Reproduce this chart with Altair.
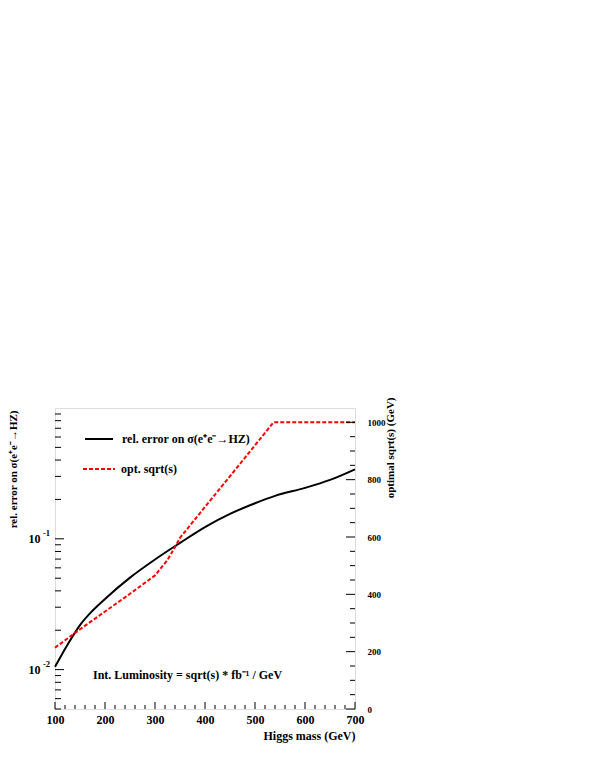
import altair as alt
import pandas as pd

# Black curve: relative error on sigma(e+e- -> HZ)
mh_err = [100, 125, 150, 175, 200, 250, 300, 350, 400, 450, 500, 540, 600, 650, 700]
rel_err = [0.0105, 0.0155, 0.0219, 0.0282, 0.0347, 0.0505, 0.0695, 0.093, 0.123, 0.155, 0.187, 0.213,
           0.245, 0.282, 0.34]

# Red dashed curve: optimal sqrt(s)
mh_opt = [100, 150, 200, 250, 300, 325, 340, 350, 400, 450, 500, 537, 700]
sqrt_s = [214, 278, 340, 402, 466, 520, 565, 597, 705, 812, 920, 1000, 1000]

x_major = [100, 200, 300, 400, 500, 600, 700]
x_minor = [v for v in range(100, 701, 20) if v % 100 != 0]
left_major = [0.01, 0.1]
left_minor = [0.005, 0.006, 0.007, 0.008, 0.009, 0.02, 0.03, 0.04, 0.05, 0.06, 0.07, 0.08, 0.09,
              0.2, 0.3, 0.4, 0.5, 0.6, 0.7, 0.8, 0.9]
right_major = [0, 200, 400, 600, 800, 1000]
right_minor = [v for v in range(50, 1050, 50) if v % 200 != 0]
exp_vals = [0.1, 0.01]
exp_text = ["-1", "-2"]

FONT = "Liberation Serif"
W, H = 300, 301

df_err = pd.DataFrame({"mh": mh_err, "err": rel_err})
df_opt = pd.DataFrame({"mh": mh_opt, "s": sqrt_s})
one = pd.DataFrame({"a": [0]})

xscale = alt.Scale(domain=[100, 700], nice=False, zero=False)
lscale = alt.Scale(type="log", domain=[0.005, 1], nice=False)
rscale = alt.Scale(domain=[0, 1050], nice=False, zero=False)

xaxis = alt.Axis(values=x_major, ticks=False, domain=False, grid=False, labelFont=FONT, labelFontSize=12,
                 labelFontWeight="bold", labelColor="black", labelPadding=5, labelFlush=False, format="d",
                 title="Higgs mass (GeV)", titleFont=FONT, titleFontSize=12, titleFontWeight="bold",
                 titleColor="black", titleX=W, titleY=26, titleAlign="right", titleBaseline="middle")

black = alt.Chart(df_err).mark_line(color="black", strokeWidth=2, interpolate="monotone").encode(
    x=alt.X("mh:Q", scale=xscale, axis=xaxis),
    y=alt.Y("err:Q", scale=lscale,
            axis=alt.Axis(values=left_major, labelExpr="'10'", ticks=False, domain=False, grid=False,
                          labelFont=FONT, labelFontSize=12, labelFontWeight="bold", labelColor="black",
                          labelPadding=15, labelFlush=False,
                          title="rel. error on σ(e⁺e⁻→HZ)", titleFont=FONT, titleFontSize=11,
                          titleFontWeight="bold", titleColor="black", titleAngle=270, titleAlign="right",
                          titleX=-42, titleY=2, titleBaseline="middle")),
)

red = alt.Chart(df_opt).mark_line(color="#ff0000", strokeWidth=2, strokeDash=[4, 2]).encode(
    x=alt.X("mh:Q", scale=xscale, axis=xaxis),
    y=alt.Y("s:Q", scale=rscale,
            axis=alt.Axis(orient="right", values=right_major, ticks=False, domain=False, grid=False,
                          labelFont=FONT, labelFontSize=9, labelFontWeight="bold", labelColor="black",
                          labelPadding=12, labelFlush=False, format="d",
                          title="optimal sqrt(s) (GeV)", titleFont=FONT, titleFontSize=11,
                          titleFontWeight="bold", titleColor="black", titleAngle=270, titleAlign="right",
                          titleX=35, titleY=-11, titleBaseline="middle")),
)

def xticks(vals, length):
    return alt.Chart(pd.DataFrame({"mh": vals})).mark_rule(color="black", strokeWidth=1).encode(
        x=alt.X("mh:Q", scale=xscale, axis=xaxis), y=alt.value(H), y2=alt.value(H - length))

def lticks(vals, length):
    return alt.Chart(pd.DataFrame({"v": vals})).mark_rule(color="black", strokeWidth=1).encode(
        y=alt.Y("v:Q", scale=lscale, axis=None), x=alt.value(0), x2=alt.value(length))

def rticks(vals, length):
    return alt.Chart(pd.DataFrame({"v": vals})).mark_rule(color="black", strokeWidth=1).encode(
        y=alt.Y("v:Q", scale=rscale, axis=None), x=alt.value(W), x2=alt.value(W - length))

sup = alt.Chart(pd.DataFrame({"v": exp_vals, "t": exp_text})).mark_text(
    font=FONT, fontSize=8.5, fontWeight="bold", align="left", baseline="middle", dy=-6, color="black"
).encode(y=alt.Y("v:Q", scale=lscale, axis=None), x=alt.value(-12), text="t:N")

leg_black = alt.Chart(one).mark_rule(color="black", strokeWidth=2).encode(
    x=alt.value(30), x2=alt.value(58), y=alt.value(31))
leg_red = alt.Chart(one).mark_rule(color="#ff0000", strokeWidth=2, strokeDash=[4, 2]).encode(
    x=alt.value(28), x2=alt.value(60), y=alt.value(61))
leg_t1 = alt.Chart(one).mark_text(font=FONT, fontSize=12, fontWeight="bold", align="left",
                                  baseline="middle", color="black", text="rel. error on σ(e⁺e⁻→HZ)").encode(
    x=alt.value(67), y=alt.value(31))
leg_t2 = alt.Chart(one).mark_text(font=FONT, fontSize=12, fontWeight="bold", align="left",
                                  baseline="middle", color="black", text="opt. sqrt(s)").encode(
    x=alt.value(66), y=alt.value(61))
annot = alt.Chart(one).mark_text(font=FONT, fontSize=12, fontWeight="bold", align="left",
                                 baseline="middle", color="black",
                                 text="Int. Luminosity = sqrt(s) * fb⁻¹ / GeV").encode(
    x=alt.value(38), y=alt.value(267))

chart = alt.layer(
    black, red,
    xticks(x_major, 7), xticks(x_minor, 4),
    lticks(left_major, 9), lticks(left_minor, 6),
    rticks(right_major, 9), rticks(right_minor, 5),
    sup, leg_black, leg_red, leg_t1, leg_t2, annot,
).resolve_scale(y="independent").properties(
    width=W, height=H,
    autosize=alt.AutoSizeParams(type="none"),
    padding={"left": 47, "top": 400, "right": 100, "bottom": 50},
).configure_view(stroke="black", strokeWidth=1).configure(background="white")

chart.save("out.html", embed_options={"renderer": "svg", "actions": False})
